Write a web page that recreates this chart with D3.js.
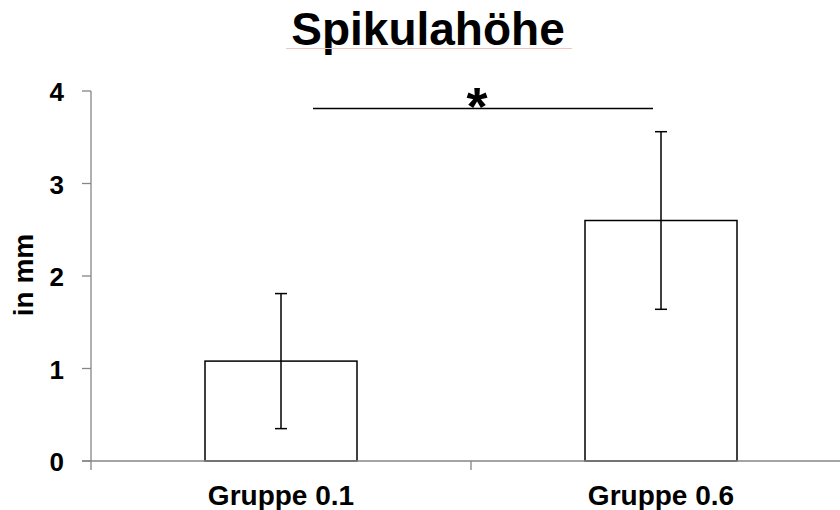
<!DOCTYPE html>
<html>
<head>
<meta charset="utf-8">
<script src="https://cdn.jsdelivr.net/npm/d3@7"></script>
<style>
  html, body { margin: 0; padding: 0; background: #fff; }
  svg { display: block; font-family: "Liberation Sans", Arial, sans-serif; }
</style>
</head>
<body>
<svg id="chart" width="840" height="510"></svg>
<script>
// Group means with standard deviations (mm)
const categories = ["Gruppe 0.1", "Gruppe 0.6"];
const means = [1.08, 2.60];
const errors = [0.73, 0.96];
const yTicks = [0, 1, 2, 3, 4];
const significance = { from: 0, to: 1, level: 3.81, label: "*" };
const titleText = "Spikulahöhe";
const yLabelText = "in mm";

const svg = d3.select("#chart");
const axisColor = "#868686";

const y = d3.scaleLinear().domain([0, 4]).range([461, 91]);
const x = d3.scaleBand().domain(categories).range([91, 851])
  .paddingInner(0.6).paddingOuter(0.3);
const xStep = d3.scalePoint().domain(d3.range(categories.length + 1)).range([91, 851]);

// Title with its thin underline
svg.append("text")
  .attr("x", 428).attr("y", 45)
  .attr("text-anchor", "middle")
  .attr("font-size", 46).attr("font-weight", "bold")
  .text(titleText);
svg.append("line")
  .attr("x1", 286).attr("x2", 572).attr("y1", 48.5).attr("y2", 48.5)
  .attr("stroke", "#f3c4c4").attr("stroke-width", 1);

// Y axis
const yAxis = svg.append("g");
yAxis.append("line")
  .attr("x1", 91).attr("x2", 91).attr("y1", y(4)).attr("y2", y(0))
  .attr("stroke", axisColor).attr("stroke-width", 1.3);
yAxis.selectAll("line.tick").data(yTicks).join("line")
  .attr("class", "tick")
  .attr("x1", 82).attr("x2", 91)
  .attr("y1", d => y(d)).attr("y2", d => y(d))
  .attr("stroke", axisColor).attr("stroke-width", 1.3);
yAxis.selectAll("text").data(yTicks).join("text")
  .attr("x", 64).attr("y", d => y(d) + 10)
  .attr("text-anchor", "end")
  .attr("font-size", 26).attr("font-weight", "bold")
  .text(d => d);

// Y label
svg.append("text")
  .attr("transform", "translate(33,275) rotate(-90)")
  .attr("text-anchor", "middle")
  .attr("font-size", 28).attr("font-weight", "bold")
  .text(yLabelText);

// Bars
svg.selectAll("rect.bar").data(categories).join("rect")
  .attr("class", "bar")
  .attr("x", d => x(d)).attr("width", x.bandwidth())
  .attr("y", (d, i) => y(means[i]))
  .attr("height", (d, i) => y(0) - y(means[i]))
  .attr("fill", "#fff").attr("stroke", "#000").attr("stroke-width", 1.5);

// X axis (drawn over the bar bottoms)
svg.append("line")
  .attr("x1", 82).attr("x2", 840).attr("y1", y(0)).attr("y2", y(0))
  .attr("stroke", axisColor).attr("stroke-width", 1.3);
svg.selectAll("line.xtick").data(d3.range(categories.length + 1)).join("line")
  .attr("class", "xtick")
  .attr("x1", d => xStep(d)).attr("x2", d => xStep(d))
  .attr("y1", y(0)).attr("y2", y(0) + 9)
  .attr("stroke", axisColor).attr("stroke-width", 1.3);
svg.selectAll("text.xlabel").data(categories).join("text")
  .attr("class", "xlabel")
  .attr("x", d => x(d) + x.bandwidth() / 2).attr("y", 505)
  .attr("text-anchor", "middle")
  .attr("font-size", 28).attr("font-weight", "bold")
  .text(d => d);

// Error bars
const eb = svg.selectAll("g.err").data(categories).join("g").attr("class", "err");
eb.append("line")
  .attr("x1", d => x(d) + x.bandwidth() / 2).attr("x2", d => x(d) + x.bandwidth() / 2)
  .attr("y1", (d, i) => y(means[i] + errors[i])).attr("y2", (d, i) => y(means[i] - errors[i]))
  .attr("stroke", "#000").attr("stroke-width", 1.5);
[1, -1].forEach(s => {
  eb.append("line")
    .attr("x1", d => x(d) + x.bandwidth() / 2 - 6).attr("x2", d => x(d) + x.bandwidth() / 2 + 6)
    .attr("y1", (d, i) => y(means[i] + s * errors[i])).attr("y2", (d, i) => y(means[i] + s * errors[i]))
    .attr("stroke", "#000").attr("stroke-width", 1.5);
});

// Significance bracket
const c0 = x(categories[significance.from]) + x.bandwidth() / 2;
const c1 = x(categories[significance.to]) + x.bandwidth() / 2;
svg.append("line")
  .attr("x1", 313).attr("x2", 653)
  .attr("y1", y(significance.level)).attr("y2", y(significance.level))
  .attr("stroke", "#000").attr("stroke-width", 1.5);
svg.append("text")
  .attr("x", (c0 + c1) / 2 + 6).attr("y", 125)
  .attr("text-anchor", "middle")
  .attr("font-size", 54).attr("font-weight", "bold")
  .text(significance.label);
</script>
</body>
</html>
